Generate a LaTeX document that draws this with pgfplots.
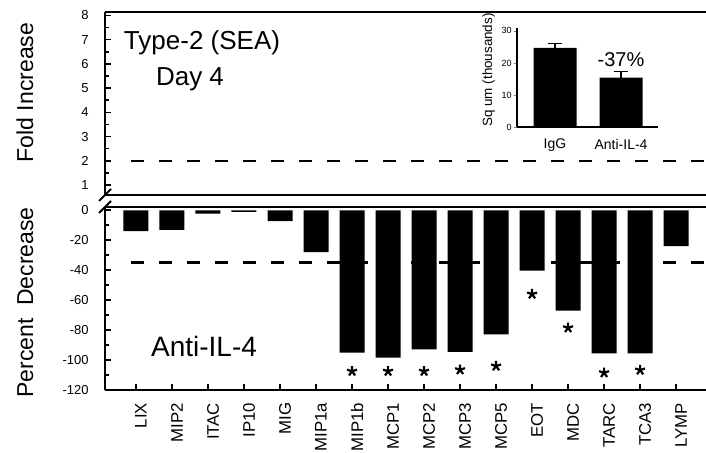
\documentclass[border=0pt]{standalone}
\usepackage{fontspec}
\setmainfont{Liberation Sans}
\usepackage{pgfplots}
\pgfplotsset{compat=1.18}
\begin{document}
\begin{tikzpicture}
\path[use as bounding box] (0,0) rectangle (353pt,226.5pt);
\pgfplotsset{
  common/.style={scale only axis, width=300.5pt, height=91.5pt,
    xmin=-0.86, xmax=15.83,
    axis x line*=box, axis y line*=left, tick align=inside, ytick pos=left,
    major tick length=3pt, minor tick length=2.2pt,
    every tick/.style={line width=0.8pt, black},
    axis line style={line width=1.2pt,-},
    /pgf/number format/assume math mode=true,
    yticklabel style={font=\fontsize{6.5}{7}\selectfont, inner sep=0pt, anchor=east, xshift=-8pt},
    clip=false}
}
% ---------- top panel ----------
\begin{axis}[common, at={(52.5pt,129pt)}, anchor=south west,
  ymin=0.59, ymax=8.14, ytick={1,2,...,8}, minor y tick num=1, xtick=\empty]
\addplot[line width=1.3pt, dash pattern=on 6.5pt off 7.5pt] coordinates {(-0.15,2) (15.83,2)};
\draw[line width=1pt] (rel axis cs:0,0) ++(-3pt,-3pt) -- ++(6pt,6pt);
\end{axis}
% ---------- bottom panel ----------
\begin{axis}[common, at={(52.5pt,31.5pt)}, anchor=south west,
  ymin=-120, ymax=2.2, ytick={-120,-100,...,0}, minor y tick num=1,
  xtick={0,...,15}, xtick pos=left,
  xticklabels={LIX,MIP2,ITAC,IP10,MIG,MIP1a,MIP1b,MCP1,MCP2,MCP3,MCP5,EOT,MDC,TARC,TCA3,LYMP},
  xticklabel style={rotate=90, anchor=east, font=\fontsize{8.4}{9}\selectfont, inner sep=0pt, xshift=-6.25pt, yshift=-2.5pt}]
\addplot[line width=1.3pt, dash pattern=on 6.5pt off 7.5pt] coordinates {(-0.15,-35) (15.83,-35)};
\addplot[ybar, bar width=12.5pt, fill=black, draw=none] coordinates {
  (0,-13.9) (1,-13.0) (2,-2.2) (3,-1.1) (4,-7.2) (5,-28) (6,-95) (7,-98.4)
  (8,-92.8) (9,-94.6) (10,-82.8) (11,-40.3) (12,-67) (13,-95.5) (14,-95.5) (15,-24)};
\addplot[only marks, mark=star, mark size=2.6pt, line width=1.1pt] coordinates {
  (6,-107.5) (7,-107.5) (8,-107.5) (9,-106.5) (10,-104) (11,-56) (12,-78.5) (13,-108.5) (14,-106.7)};
\draw[line width=1pt] (rel axis cs:0,1) ++(-3pt,-3pt) -- ++(6pt,6pt);
\end{axis}
% ---------- inset ----------
\begin{axis}[at={(258.5pt,163pt)}, anchor=south west, scale only axis,
  width=70.5pt, height=49.5pt, xmin=-0.576, xmax=1.56, ymin=0, ymax=30.9,
  axis x line*=bottom, axis y line*=left, axis line style={line width=0.6pt,-},
  xtick={0,1}, xticklabels={IgG,Anti-IL-4}, ytick={0,10,20,30},
  major tick length=1.5pt, tick align=outside, xtick style={draw=none},
  /pgf/number format/assume math mode=true,
  yticklabel style={font=\fontsize{4.5}{5}\selectfont, inner sep=1pt},
  xticklabel style={font=\fontsize{7}{8}\selectfont, yshift=-1pt},
  clip=false]
\addplot[ybar, bar width=21.5pt, fill=black, draw=none,
  error bars/.cd, y dir=plus, y explicit,
  error bar style={draw=black, line width=0.8pt},
  error mark options={draw=black, rotate=90, mark size=3.5pt, line width=0.8pt}]
  coordinates {(0,24.7) +- (0,1.4) (1,15.4) +- (0,1.9)};
\node at (axis cs:1,20.9) {\fontsize{10}{12}\selectfont -37\%};
\end{axis}
% ---------- texts ----------
\node[rotate=90, anchor=base, inner sep=0pt] at (16.5pt,180.25pt) {\fontsize{11.5}{13}\selectfont Fold Increase};
\node[rotate=90, anchor=base, inner sep=0pt] at (16.5pt,75.25pt) {\fontsize{11.5}{13}\selectfont Percent\ \ Decrease};
\node[rotate=90, anchor=base, inner sep=0pt] at (246pt,191.5pt) {\fontsize{6.7}{8}\selectfont Sq um (thousands)};
\node[anchor=base, inner sep=0pt] at (101pt,201.5pt) {\fontsize{13}{15}\selectfont Type-2 (SEA)};
\node[anchor=base, inner sep=0pt] at (95pt,183.5pt) {\fontsize{13}{15}\selectfont Day 4};
\node[anchor=base, inner sep=0pt] at (102pt,48pt) {\fontsize{14}{16}\selectfont Anti-IL-4};
\end{tikzpicture}
\end{document}
